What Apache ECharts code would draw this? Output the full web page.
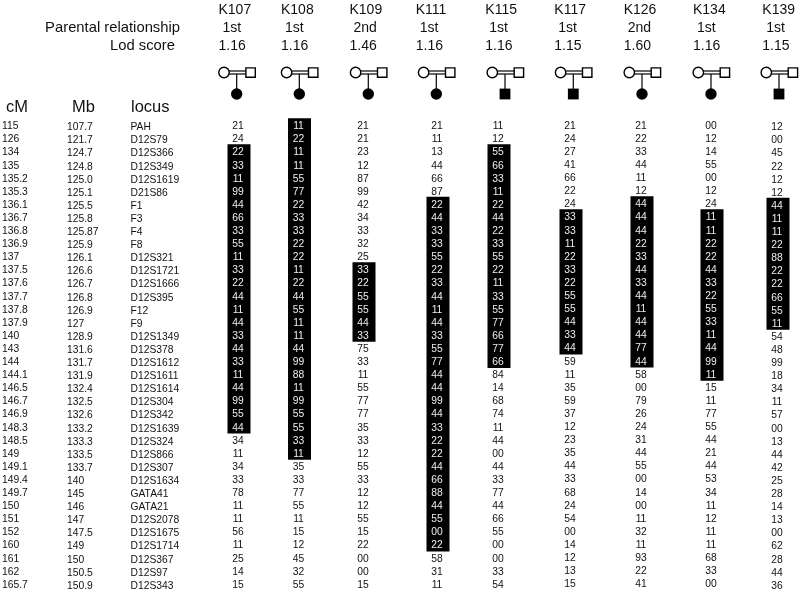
<!DOCTYPE html>
<html>
<head>
<meta charset="utf-8">
<style>html,body{margin:0;padding:0;background:#fff}#c{width:800px;height:596px}</style>
<script src="https://cdn.jsdelivr.net/npm/echarts@6/dist/echarts.min.js"></script>
</head>
<body>
<div id="c"></div>
<script>
const families = ["K107","K108","K109","K111","K115","K117","K126","K134","K139"];
const relationship = ["1st","1st","2nd","1st","1st","1st","2nd","1st","1st"];
const lodScore = ["1.16","1.16","1.46","1.16","1.16","1.15","1.60","1.16","1.15"];
const childSex = ["F","F","F","F","M","M","F","F","M"];

const cM = ["115","126","134","135","135.2","135.3","136.1","136.7","136.8","136.9","137","137.5","137.6","137.7","137.8","137.9","140","143","144","144.1","146.5","146.7","146.9","148.3","148.5","149","149.1","149.4","149.7","150","151","152","160","161","162","165.7"];
const Mb = ["107.7","121.7","124.7","124.8","125.0","125.1","125.5","125.8","125.87","125.9","126.1","126.6","126.7","126.8","126.9","127","128.9","131.6","131.7","131.9","132.4","132.5","132.6","133.2","133.3","133.5","133.7","140","145","146","147","147.5","149","150","150.5","150.9"];
const locus = ["PAH","D12S79","D12S366","D12S349","D12S1619","D21S86","F1","F3","F4","F8","D12S321","D12S1721","D12S1666","D12S395","F12","F9","D12S1349","D12S378","D12S1612","D12S1611","D12S1614","D12S304","D12S342","D12S1639","D12S324","D12S866","D12S307","D12S1634","GATA41","GATA21","D12S2078","D12S1675","D12S1714","D12S367","D12S97","D12S343"];

const k107 = ["21","24","22","33","11","99","44","66","33","55","11","33","22","44","11","44","33","44","33","11","44","99","55","44","34","11","34","33","78","11","11","56","11","25","14","15"];
const k108 = ["11","22","11","11","55","77","22","33","33","22","22","11","22","44","55","11","11","44","99","88","11","99","55","55","33","11","35","33","77","55","11","15","12","45","32","55"];
const k109 = ["21","21","23","12","87","99","42","34","33","32","25","33","22","55","55","44","33","75","33","11","55","77","77","35","33","12","55","33","12","12","55","15","22","00","00","15"];
const k111 = ["21","11","13","44","66","87","22","44","33","33","55","22","33","44","11","44","33","55","77","44","44","99","44","33","22","22","44","66","88","44","55","00","22","58","31","11"];
const k115 = ["11","12","55","66","33","11","22","44","22","33","55","22","11","33","55","77","66","77","66","84","14","68","74","11","44","00","44","33","77","44","66","55","00","00","33","54"];
const k117 = ["21","24","27","41","66","22","24","33","33","11","22","33","22","55","55","44","33","44","59","11","35","59","37","12","23","35","44","33","68","24","54","00","14","12","13","15"];
const k126 = ["21","22","33","44","11","12","44","44","44","22","33","44","33","44","11","44","44","77","44","58","00","79","26","24","31","44","55","00","14","00","11","32","11","93","22","41"];
const k134 = ["00","12","14","55","00","12","24","11","11","22","22","44","33","22","55","33","11","44","99","11","15","11","77","55","44","21","44","53","34","11","12","11","11","68","33","00"];
const k139 = ["12","00","45","22","12","12","44","11","11","22","88","22","22","66","55","11","54","48","99","18","34","11","57","00","13","44","42","25","28","14","13","00","62","28","44","36"];
const genotypes = [k107,k108,k109,k111,k115,k117,k126,k134,k139];

// First and last locus of the homozygous run shaded in each family
const runStart = ["D12S366","PAH","D12S1721","F1","D12S366","F3","F1","F3","F1"];
const runEnd = ["D12S1639","D12S866","D12S1349","D12S1714","D12S1612","D12S378","D12S1612","D12S1611","F9"];

// Layout of the columns on the shared horizontal scale (page pixels)
const cellX = [238,298.5,363,437,498,570,641,711,777];
const headX = [218.5,281,349.5,415.7,485.3,554.3,623.7,693,762.3];
const pedX = [236.7,299.3,368.3,436.3,505,573.3,642,711,779];
const rowNudge = [0,0,0,0,0,-0.5,-0.5,-0.5,1];

const INK = "#111";
const FONT = "Liberation Sans";

function textSeries(items, gridIndex, opts) {
  return {
    type: "custom", silent: true, xAxisIndex: gridIndex, yAxisIndex: gridIndex,
    clip: false, z: 5,
    data: items.map(function (d) { return [d.x, d.y]; }),
    renderItem: function (params, api) {
      const d = items[params.dataIndex];
      const p = api.coord([d.x, d.y]);
      return {
        type: "text", x: p[0], y: p[1] + (d.dy || 0),
        style: {
          text: d.t, fill: d.fill || INK, align: d.align || "left", verticalAlign: "middle",
          font: (d.size || 10.3) + "px '" + FONT + "', Arial, sans-serif"
        }
      };
    }
  };
}

const cellItems = [];
genotypes.forEach(function (col, f) {
  const a = locus.indexOf(runStart[f]), b = locus.indexOf(runEnd[f]);
  col.forEach(function (t, r) {
    cellItems.push({ x: cellX[f], y: locus[r], dy: rowNudge[f] + 0.7, t: t, align: "center", fill: (r >= a && r <= b) ? "#eee" : INK });
  });
});

const sideItems = [];
locus.forEach(function (name, r) {
  sideItems.push({ x: 2, y: name, dy: 0.7, t: cM[r] });
  sideItems.push({ x: 67, y: name, dy: 1.7, t: Mb[r] });
  sideItems.push({ x: 130.5, y: name, dy: 1.7, t: name });
});

const headItems = [];
families.forEach(function (k, f) {
  headItems.push({ x: headX[f], y: 10, t: k, size: 14 });
  headItems.push({ x: headX[f] + 4, y: 28, t: relationship[f], size: 14 });
  headItems.push({ x: headX[f], y: 46, t: lodScore[f], size: 14 });
});
headItems.push({ x: 180, y: 28, t: "Parental relationship", size: 14.8, align: "right" });
headItems.push({ x: 175, y: 46, t: "Lod score", size: 14.8, align: "right" });
headItems.push({ x: 6, y: 107, t: "cM", size: 16.5 });
headItems.push({ x: 72, y: 107, t: "Mb", size: 16.5 });
headItems.push({ x: 131, y: 107, t: "locus", size: 16.5 });

const runSeries = {
  type: "custom", silent: true, xAxisIndex: 0, yAxisIndex: 0, clip: false, z: 2,
  data: families.map(function (k, f) { return [cellX[f], runStart[f], runEnd[f]]; }),
  renderItem: function (params, api) {
    const f = params.dataIndex;
    const top = api.coord([cellX[f], runStart[f]]);
    const bottom = api.coord([cellX[f], runEnd[f]]);
    const band = api.size([0, 1])[1];
    return {
      type: "rect",
      shape: { x: top[0] - 10.5, y: top[1] - band / 2 - 1 + rowNudge[f], width: 23, height: bottom[1] - top[1] + band + 1 },
      style: { fill: "#000" }
    };
  }
};

const pedSeries = {
  type: "custom", silent: true, xAxisIndex: 1, yAxisIndex: 1, clip: false, z: 3,
  data: families.map(function (k, f) { return [pedX[f], 72.5]; }),
  renderItem: function (params, api) {
    const f = params.dataIndex;
    const p = api.coord([pedX[f], 72.5]);
    const c = api.coord([pedX[f], 94]);
    const x = p[0], y = p[1];
    const line = { stroke: "#000", lineWidth: 1.2, fill: "none" };
    const open = { stroke: "#000", lineWidth: 1.4, fill: "#fff" };
    const child = childSex[f] === "M"
      ? { type: "rect", shape: { x: c[0] - 5.4, y: c[1] - 5.4, width: 10.8, height: 10.8 }, style: { fill: "#000" } }
      : { type: "circle", shape: { cx: c[0], cy: c[1], r: 5.7 }, style: { fill: "#000" } };
    return {
      type: "group",
      children: [
        { type: "line", shape: { x1: x - 8, y1: y - 1.5, x2: x + 10, y2: y - 1.5 }, style: line },
        { type: "line", shape: { x1: x - 8, y1: y + 1.5, x2: x + 10, y2: y + 1.5 }, style: line },
        { type: "line", shape: { x1: x, y1: y + 1.5, x2: x, y2: c[1] }, style: line },
        { type: "circle", shape: { cx: x - 12.7, cy: y, r: 5.2 }, style: open },
        { type: "rect", shape: { x: x + 9.2, y: y - 4.6, width: 9.4, height: 9.4 }, style: open },
        child
      ]
    };
  }
};

const hiddenAxis = { show: false };
const chart = echarts.init(document.getElementById("c"), null, { renderer: "canvas" });
chart.setOption({
  animation: false,
  backgroundColor: "#fff",
  tooltip: { show: false },
  grid: [
    { left: 0, top: 119.15, width: 800, height: 471.6, containLabel: false },
    { left: 0, top: 0, width: 800, height: 119, containLabel: false }
  ],
  xAxis: [
    Object.assign({ type: "value", gridIndex: 0, min: 0, max: 800 }, hiddenAxis),
    Object.assign({ type: "value", gridIndex: 1, min: 0, max: 800 }, hiddenAxis)
  ],
  yAxis: [
    Object.assign({ type: "category", gridIndex: 0, data: locus, inverse: true }, hiddenAxis),
    Object.assign({ type: "value", gridIndex: 1, min: 0, max: 119, inverse: true }, hiddenAxis)
  ],
  series: [
    runSeries,
    textSeries(cellItems, 0),
    textSeries(sideItems, 0),
    pedSeries,
    textSeries(headItems, 1)
  ]
});
</script>
</body>
</html>
